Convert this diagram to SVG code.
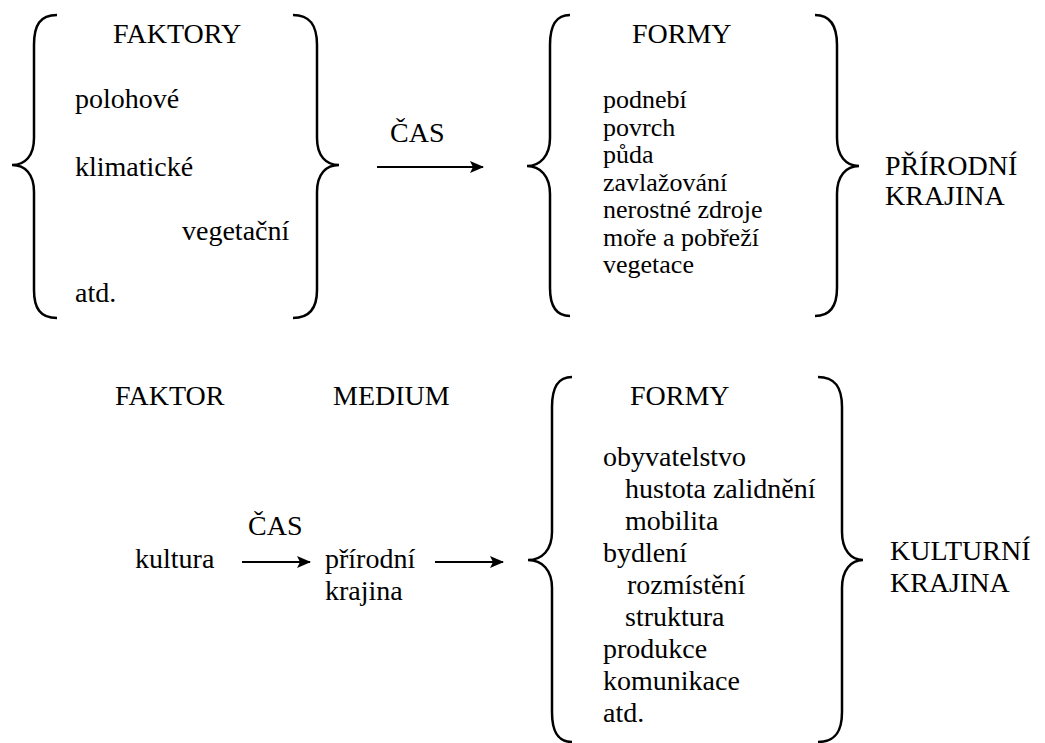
<svg xmlns="http://www.w3.org/2000/svg" width="1045" height="743" viewBox="0 0 1045 743" font-family="'Liberation Serif', 'DejaVu Serif', 'Times New Roman', serif">
<style>
text{font-family:'Liberation Serif','DejaVu Serif','Times New Roman',serif;font-size:28px;fill:#000}
.sm{font-size:26px}
.br{fill:none;stroke:#000;stroke-width:2.5}
.ar{fill:none;stroke:#000;stroke-width:2.2}
</style>
<defs>
<marker id="ah" markerWidth="14" markerHeight="12" refX="13" refY="6" orient="auto" markerUnits="userSpaceOnUse">
<path d="M0,0 L14,6 L0,12 L3,6 Z" fill="#000"/>
</marker>
</defs>
<rect width="1045" height="743" fill="#fff"/>
<g id="faktory">
<path class="br" d="M57,15 C40,15 34,25 34,45 L34,138 C34,156 25,165 12,165 C25,165 34,174 34,192 L34,290 C34,308 40,318 57,318"/>
<path class="br" d="M293,15 C310,15 317,25 317,45 L317,138 C317,156 326,165 339,165 C326,165 317,174 317,192 L317,290 C317,308 310,318 293,318"/>
<text x="113" y="43">FAKTORY</text>
<text x="75" y="108">polohové</text>
<text x="75" y="176">klimatické</text>
<text x="182" y="240">vegetační</text>
<text x="75" y="302">atd.</text>
</g>
<g id="formy1">
<path class="br" d="M570,15 C556,15 550,25 550,45 L550,138 C550,156 540,166 527,166 C540,166 550,176 550,194 L550,288 C550,306 556,316 570,316"/>
<path class="br" d="M815,15 C830,15 837,25 837,45 L837,138 C837,156 846,166 859,166 C846,166 837,176 837,194 L837,288 C837,306 830,316 815,316"/>
<text x="632" y="43">FORMY</text>
<text class="sm" x="603" y="108">podnebí</text>
<text class="sm" x="603" y="136">povrch</text>
<text class="sm" x="603" y="163">půda</text>
<text class="sm" x="603" y="191">zavlažování</text>
<text class="sm" x="603" y="218">nerostné zdroje</text>
<text class="sm" x="603" y="246">moře a pobřeží</text>
<text class="sm" x="603" y="273">vegetace</text>
</g>
<g id="prirodni">
<text x="885" y="175">PŘÍRODNÍ</text>
<text x="885" y="205">KRAJINA</text>
</g>
<g id="cas1"><text x="390" y="142">ČAS</text></g>
<g id="faktor"><text x="115" y="405">FAKTOR</text></g>
<g id="medium"><text x="333" y="405">MEDIUM</text></g>
<g id="kultura"><text x="135" y="568">kultura</text></g>
<g id="cas2"><text x="248" y="535">ČAS</text></g>
<g id="prirodni2">
<text x="325" y="568">přírodní</text>
<text x="325" y="600">krajina</text>
</g>
<g id="formy2">
<path class="br" d="M572,377 C558,377 552,387 552,407 L552,532 C552,550 542,560 528,560 C542,560 552,570 552,588 L552,712 C552,732 558,742 572,742"/>
<path class="br" d="M818,377 C835,377 842,387 842,407 L842,532 C842,550 851,560 863,560 C851,560 842,570 842,588 L842,712 C842,732 835,742 818,742"/>
<text x="630" y="405">FORMY</text>
<text x="603" y="466">obyvatelstvo</text>
<text x="625" y="498">hustota zalidnění</text>
<text x="625" y="530">mobilita</text>
<text x="603" y="562">bydlení</text>
<text x="627" y="594">rozmístění</text>
<text x="625" y="626">struktura</text>
<text x="603" y="658">produkce</text>
<text x="603" y="690">komunikace</text>
<text x="603" y="722">atd.</text>
</g>
<g id="kulturni">
<text x="890" y="560">KULTURNÍ</text>
<text x="890" y="592">KRAJINA</text>
</g>
<g id="connectors">
<line class="ar" x1="377" y1="167" x2="483" y2="167" marker-end="url(#ah)"/>
<line class="ar" x1="242" y1="562" x2="310" y2="562" marker-end="url(#ah)"/>
<line class="ar" x1="435" y1="562" x2="503" y2="562" marker-end="url(#ah)"/>
</g>
</svg>
